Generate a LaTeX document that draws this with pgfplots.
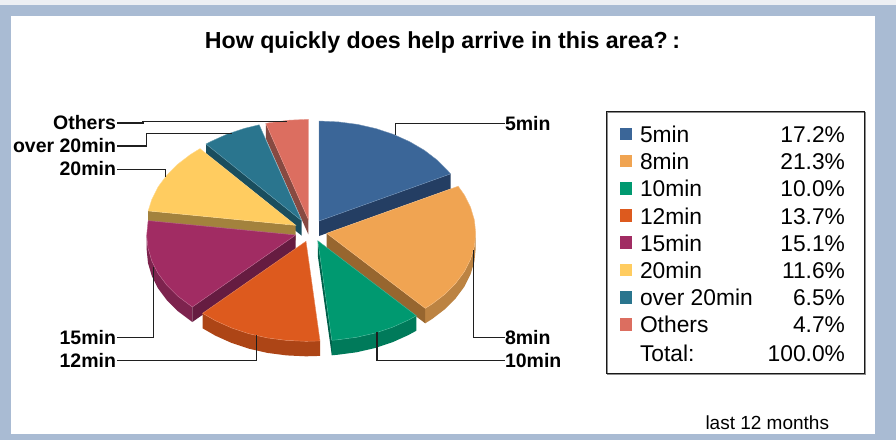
\documentclass[border=0pt]{standalone}
\usepackage{pgfplots}
\pgfplotsset{compat=1.18}
\usepackage{fontspec}
\setmainfont{Liberation Sans}
\definecolor{frameblue}{HTML}{A9BBD3}
\definecolor{frametop}{HTML}{EDEFF3}
\definecolor{cA}{HTML}{3B6698}\definecolor{cAr}{HTML}{243E63}
\definecolor{cB}{HTML}{F0A452}\definecolor{cBr}{HTML}{97662F}\definecolor{cBw}{HTML}{BC8342}
\definecolor{cC}{HTML}{009970}\definecolor{cCr}{HTML}{00604A}\definecolor{cCw}{HTML}{007A5A}
\definecolor{cD}{HTML}{DD5A1E}\definecolor{cDw}{HTML}{AD4516}
\definecolor{cE}{HTML}{A12C63}\definecolor{cEr}{HTML}{661C41}\definecolor{cEw}{HTML}{7D234E}
\definecolor{cF}{HTML}{FFCC60}\definecolor{cFr}{HTML}{A3823D}
\definecolor{cG}{HTML}{2A758E}\definecolor{cGr}{HTML}{1A4E5E}
\definecolor{cH}{HTML}{DC6E60}\definecolor{cHr}{HTML}{874A42}
\pgfplotsset{
  top/.style={fill=#1,draw=#1!72!white,line width=0.4pt},
  side/.style={fill=#1,draw=none},
  lead/.style={draw=black!88,line width=1.15pt,line join=miter},
  swatch/.style={fill=#1,draw=none}
}
\newcommand{\blab}[1]{\fontsize{19.5}{22}\selectfont\bfseries #1}
\newcommand{\leg}[1]{\fontsize{22.8}{26}\selectfont #1}
\begin{document}
\begin{tikzpicture}[every node/.style={inner sep=0pt,outer sep=0pt}]
\begin{axis}[hide axis,scale only axis,width=896pt,height=440pt,
  xmin=0,xmax=896,ymin=0,ymax=440,y dir=reverse,clip=true]
% frame
\addplot[fill=frametop,draw=none] coordinates {(0,0)(896,0)(896,5)(0,5)} --cycle;
\addplot[fill=frameblue,draw=none] coordinates {(0,5)(896,5)(896,440)(0,440)} --cycle;
\addplot[fill=white,draw=none] coordinates {(11,16)(875,16)(875,433.5)(11,433.5)} --cycle;
% Others
\addplot[side=cHr] coordinates {(308.3,219.3)(265.8,123.4)(265.8,138.4)(308.3,234.3)} --cycle;
\addplot[top=cH] coordinates {(308.3,219.3)(265.8,123.4)(269.7,122.7)(288.9,120.2)(308.3,119.3)} --cycle;
% over 20min
\addplot[side=cGr] coordinates {(301.7,220.7)(206,144)(206,159)(301.7,235.7)} --cycle;
\addplot[top=cG] coordinates {(301.7,220.7)(206,144)(211,141.4)(227.2,134.1)(244.7,128.3)(259.2,124.8)} --cycle;
% 5min
\addplot[side=cAr] coordinates {(319,221)(450.5,173.9)(450.5,188.9)(319,236)} --cycle;
\addplot[top=cA] coordinates {(319,221)(319,121)(338.4,121.9)(357.6,124.4)(376,128.6)(393.5,134.4)(409.7,141.7)(424.4,150.3)(437.2,160.1)(448,171)(450.5,173.9)} --cycle;
% 20min
\addplot[side=cFr] coordinates {(295.7,225.3)(148.2,210.9)(148.2,225.9)(295.7,240.3)} --cycle;
\addplot[top=cF] coordinates {(295.7,225.3)(148.2,210.9)(151.8,199.4)(158,187)(166.7,175.3)(177.5,164.4)(190.3,154.6)(200,148.6)} --cycle;
% 8min
\addplot[side=cBw] coordinates {(475.7,233.3)(474.4,246.4)(470.6,259.2)(464.4,271.6)(455.7,283.3)(444.9,294.2)(432.1,304)(425.2,308.3)(425.2,323.3)(432.1,319)(444.9,309.2)(455.7,298.3)(464.4,286.6)(470.6,274.2)(474.4,261.4)(475.7,248.3)} --cycle;
\addplot[side=cBr] coordinates {(326.7,233.3)(425.2,308.3)(425.2,323.3)(326.7,248.3)} --cycle;
\addplot[top=cB] coordinates {(326.7,233.3)(458.2,186.2)(464.4,195)(470.6,207.4)(474.4,220.2)(475.7,233.3)(474.4,246.4)(470.6,259.2)(464.4,271.6)(455.7,283.3)(444.9,294.2)(432.1,304)(425.2,308.3)} --cycle;
% 15min
\addplot[side=cEw] coordinates {(192.3,307)(177.5,295.9)(166.7,285)(158,273.3)(151.8,260.9)(148,248.1)(146.7,235)(146.7,250)(148,263.1)(151.8,275.9)(158,288.3)(166.7,300)(177.5,310.9)(192.3,322)} --cycle;
\addplot[side=cEr] coordinates {(295.7,235)(192.3,307)(192.3,322)(295.7,250)} --cycle;
\addplot[top=cE] coordinates {(295.7,235)(192.3,307)(177.5,295.9)(166.7,285)(158,273.3)(151.8,260.9)(148,248.1)(146.7,235)(148,221.9)(148.2,220.6)} --cycle;
% 10min
\addplot[side=cCr] coordinates {(317.8,240.7)(331.8,340.3)(331.8,355.3)(317.8,255.7)} --cycle;
\addplot[side=cCw] coordinates {(416.3,315.7)(408.5,320)(392.3,327.3)(374.8,333.1)(356.4,337.3)(337.2,339.8)(331.8,340.3)(331.8,355.3)(337.2,354.8)(356.4,352.3)(374.8,348.1)(392.3,342.3)(408.5,335)(416.3,330.7)} --cycle;
\addplot[top=cC] coordinates {(317.8,240.7)(416.3,315.7)(408.5,320)(392.3,327.3)(374.8,333.1)(356.4,337.3)(337.2,339.8)(331.8,340.3)} --cycle;
% 12min
\addplot[side=cDw] coordinates {(320,340.9)(306,341.3)(286.6,340.4)(267.4,337.9)(249,333.7)(231.5,327.9)(215.3,320.6)(202.6,313.3)(202.6,328.3)(215.3,335.6)(231.5,342.9)(249,348.7)(267.4,352.9)(286.6,355.4)(306,356.3)(320,355.9)} --cycle;
\addplot[top=cD] coordinates {(306,241.3)(320,340.9)(306,341.3)(286.6,340.4)(267.4,337.9)(249,333.7)(231.5,327.9)(215.3,320.6)(202.6,313.3)} --cycle;
% leader lines
\addplot[lead] coordinates {(395.7,135)(395.7,123.5)(505,123.5)};
\addplot[lead] coordinates {(473.7,250)(473.7,337.7)(505,337.7)};
\addplot[lead] coordinates {(377,332)(377,360.7)(505,360.7)};
\addplot[lead] coordinates {(256.7,335)(256.7,360.7)(117,360.7)};
\addplot[lead] coordinates {(153.7,266.7)(153.7,337.7)(117,337.7)};
\addplot[lead] coordinates {(165.7,177)(165.7,169.3)(117,169.3)};
\addplot[lead] coordinates {(231.7,133.5)(146.5,133.5)(146.5,146)(117,146)};
\addplot[lead] coordinates {(286.7,121.7)(143,121.7)(143,123)(117,123)};
% legend box
\addplot[draw=black!45,line width=1pt] coordinates {(607.5,112)(865.5,112)(865.5,374.5)(607.5,374.5)} --cycle;
\addplot[draw=black!90,line width=1pt] coordinates {(606.7,111)(864.7,111)(864.7,373.5)(606.7,373.5)} --cycle;
% swatches
\addplot[swatch=cA] coordinates {(620,127.5)(632,127.5)(632,140)(620,140)} --cycle;
\addplot[swatch=cB] coordinates {(620,155)(632,155)(632,167.3)(620,167.3)} --cycle;
\addplot[swatch=cC] coordinates {(620,182)(632,182)(632,195)(620,195)} --cycle;
\addplot[swatch=cD] coordinates {(620,209)(632,209)(632,221.7)(620,221.7)} --cycle;
\addplot[swatch=cE] coordinates {(620,236)(632,236)(632,249)(620,249)} --cycle;
\addplot[swatch=cF] coordinates {(620,263.5)(632,263.5)(632,276)(620,276)} --cycle;
\addplot[swatch=cG] coordinates {(620,291)(632,291)(632,304.3)(620,304.3)} --cycle;
\addplot[swatch=cH] coordinates {(620,318)(632,318)(632,331)(620,331)} --cycle;
% title and labels
\node[anchor=base] at (axis cs:442.5,48) {\fontsize{23.2}{26}\selectfont\bfseries How quickly does help arrive in this area?\kern0.2em:};
\node[anchor=base west] at (axis cs:505,130) {\blab{5min}};
\node[anchor=base west] at (axis cs:505,344.5) {\blab{8min}};
\node[anchor=base west] at (axis cs:505,367.5) {\blab{10min}};
\node[anchor=base east] at (axis cs:116,129.3) {\blab{Others}};
\node[anchor=base east] at (axis cs:116,152) {\blab{over 20min}};
\node[anchor=base east] at (axis cs:116,175) {\blab{20min}};
\node[anchor=base east] at (axis cs:116,344.5) {\blab{15min}};
\node[anchor=base east] at (axis cs:116,367.5) {\blab{12min}};
% legend text
\node[anchor=base west] at (axis cs:640,142.5) {\leg{5min}};
\node[anchor=base west] at (axis cs:640,169.7) {\leg{8min}};
\node[anchor=base west] at (axis cs:640,196.9) {\leg{10min}};
\node[anchor=base west] at (axis cs:640,224.1) {\leg{12min}};
\node[anchor=base west] at (axis cs:640,251.3) {\leg{15min}};
\node[anchor=base west] at (axis cs:640,278.5) {\leg{20min}};
\node[anchor=base west] at (axis cs:640,305.7) {\leg{over 20min}};
\node[anchor=base west] at (axis cs:640,332.9) {\leg{Others}};
\node[anchor=base west] at (axis cs:640,361.3) {\leg{Total:}};
\node[anchor=base east] at (axis cs:845,142.5) {\leg{17.2\%}};
\node[anchor=base east] at (axis cs:845,169.7) {\leg{21.3\%}};
\node[anchor=base east] at (axis cs:845,196.9) {\leg{10.0\%}};
\node[anchor=base east] at (axis cs:845,224.1) {\leg{13.7\%}};
\node[anchor=base east] at (axis cs:845,251.3) {\leg{15.1\%}};
\node[anchor=base east] at (axis cs:845,278.5) {\leg{11.6\%}};
\node[anchor=base east] at (axis cs:845,305.7) {\leg{6.5\%}};
\node[anchor=base east] at (axis cs:845,332.9) {\leg{4.7\%}};
\node[anchor=base east] at (axis cs:845,361.3) {\leg{100.0\%}};
\node[anchor=base west] at (axis cs:705.5,429) {\fontsize{19}{22}\selectfont last 12 months};
\end{axis}
\end{tikzpicture}
\end{document}
